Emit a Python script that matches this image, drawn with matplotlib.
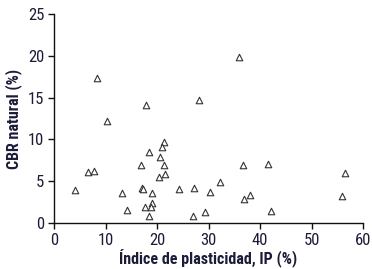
import matplotlib
matplotlib.use('Agg')
import matplotlib.pyplot as plt
from matplotlib import font_manager

# Indice de plasticidad (IP %) vs CBR natural (%)
ip = [4.0, 6.6, 7.8, 8.4, 10.3, 13.3, 14.2, 16.8, 17.0, 17.2, 17.9, 18.4,
      19.0, 19.0, 17.7, 18.8, 18.4, 21.3, 20.9, 20.6, 21.4, 21.5, 20.3,
      24.2, 27.1, 27.0, 28.1, 29.4, 30.3, 32.3, 35.9, 36.7, 36.9, 38.0,
      41.5, 42.1, 55.9, 56.5]
cbr = [3.9, 6.1, 6.2, 17.4, 12.2, 3.6, 1.6, 6.9, 4.2, 4.1, 14.1, 8.5,
       3.6, 2.4, 1.9, 1.9, 0.8, 9.7, 9.1, 7.9, 6.9, 5.9, 5.5,
       4.1, 4.2, 0.8, 14.7, 1.3, 3.7, 4.9, 19.9, 6.9, 2.9, 3.3,
       7.1, 1.4, 3.2, 6.0]

x_ticks = [0, 10, 20, 30, 40, 50, 60]
y_ticks = [0, 5, 10, 15, 20, 25]

# pick a narrow face that also has a bold weight
fonts = font_manager.fontManager.ttflist
bold_narrow = {f.name for f in fonts
               if ('Narrow' in f.name or 'Condensed' in f.name)
               and f.weight in (700, 'bold')}
pref = ['Liberation Sans Narrow', 'Roboto Condensed', 'Open Sans Condensed']
cands = [n for n in pref if n in bold_narrow] + sorted(bold_narrow)
family = cands[0] if cands else 'DejaVu Sans'
plt.rcParams['font.family'] = [family, 'DejaVu Sans']
plt.rcParams['font.stretch'] = 'condensed'

txt = '#1c1c38'

fig = plt.figure(figsize=(3.72, 2.69), dpi=100)
ax = fig.add_axes([54 / 372, 1 - 223 / 269, 309 / 372, 209 / 269])

ax.scatter(ip, cbr, marker='^', s=22, facecolors='white', edgecolors='#333333',
           linewidths=0.8, clip_on=False, zorder=3)

ax.set_xlim(0, 60)
ax.set_ylim(0, 25)
ax.set_xticks(x_ticks)
ax.set_yticks(y_ticks)

for side in ['top', 'right']:
    ax.spines[side].set_visible(False)
for side in ['left', 'bottom']:
    ax.spines[side].set_linewidth(1.0)
    ax.spines[side].set_color('#111111')

ax.tick_params(direction='out', length=4, width=1.0, color='#111111',
               labelsize=12, labelcolor=txt, pad=3)

ax.set_xlabel('Índice de plasticidad, IP (%)', fontsize=11.5, fontweight='bold',
              color=txt, labelpad=1)
ax.set_ylabel('CBR natural (%)', fontsize=11.5, fontweight='bold',
              color=txt, labelpad=4)

fig.savefig('out.png', dpi=100)
